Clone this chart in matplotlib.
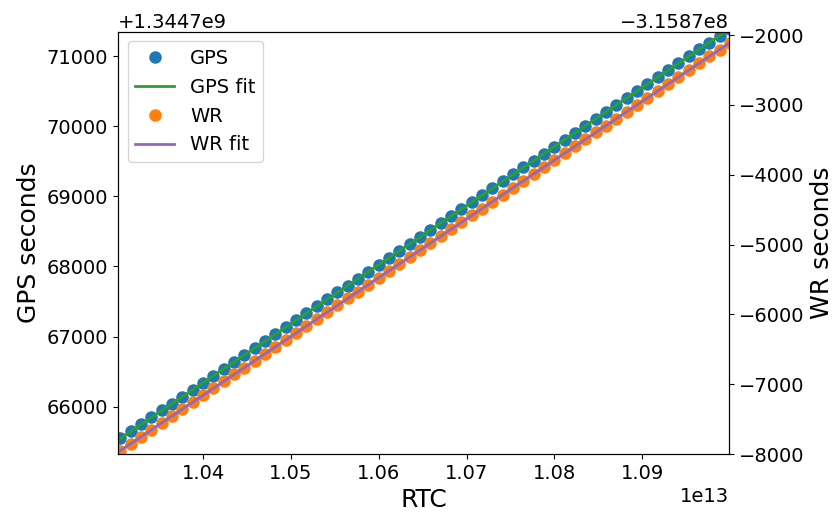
import matplotlib
matplotlib.use('Agg')
import matplotlib.pyplot as plt
import numpy as np

# RTC counter values (units of 1e13)
rtc_e13 = [
    1.0305875, 1.0317640, 1.0329405, 1.0341170, 1.0352935, 1.0364700,
    1.0376465, 1.0388230, 1.0399995, 1.0411760, 1.0423525, 1.0435290,
    1.0447055, 1.0458820, 1.0470585, 1.0482350, 1.0494115, 1.0505880,
    1.0517645, 1.0529410, 1.0541175, 1.0552940, 1.0564705, 1.0576470,
    1.0588235, 1.0600000, 1.0611765, 1.0623530, 1.0635295, 1.0647060,
    1.0658825, 1.0670590, 1.0682355, 1.0694120, 1.0705885, 1.0717650,
    1.0729415, 1.0741180, 1.0752945, 1.0764710, 1.0776475, 1.0788240,
    1.0800005, 1.0811770, 1.0823535, 1.0835300, 1.0847065, 1.0858830,
    1.0870595, 1.0882360, 1.0894125, 1.0905890, 1.0917655, 1.0929420,
    1.0941185, 1.0952950, 1.0964715, 1.0976480, 1.0988245, 1.1000010,
]

# GPS seconds, relative to 1.3447e9
GPS_BASE = 1344700000
gps_rel = [
    65550, 65649, 65748, 65847, 65946, 66045, 66144, 66243, 66342, 66441,
    66540, 66639, 66738, 66837, 66936, 67035, 67134, 67233, 67332, 67431,
    67530, 67629, 67728, 67827, 67926, 68025, 68124, 68223, 68322, 68421,
    68520, 68619, 68718, 68817, 68916, 69015, 69114, 69213, 69312, 69411,
    69510, 69609, 69708, 69807, 69906, 70005, 70104, 70203, 70302, 70401,
    70500, 70599, 70698, 70797, 70896, 70995, 71094, 71193, 71292, 71391,
]

# WR seconds, relative to -3.1587e8
WR_BASE = -315870000
wr_rel = [
    -7950, -7851, -7752, -7653, -7554, -7455, -7356, -7257, -7158, -7059,
    -6960, -6861, -6762, -6663, -6564, -6465, -6366, -6267, -6168, -6069,
    -5970, -5871, -5772, -5673, -5574, -5475, -5376, -5277, -5178, -5079,
    -4980, -4881, -4782, -4683, -4584, -4485, -4386, -4287, -4188, -4089,
    -3990, -3891, -3792, -3693, -3594, -3495, -3396, -3297, -3198, -3099,
    -3000, -2901, -2802, -2703, -2604, -2505, -2406, -2307, -2208, -2109,
]

rtc = np.array(rtc_e13) * 1e13
gps = GPS_BASE + np.array(gps_rel, dtype=float)
wr = WR_BASE + np.array(wr_rel, dtype=float)

x_lim = (1.0303e13, 1.0999e13)
gps_lim = (GPS_BASE + 65325, GPS_BASE + 71347)
wr_lim = (WR_BASE - 8000, WR_BASE - 1953)

fig = plt.figure(figsize=(8.39, 5.15), dpi=100)
ax = fig.add_axes([0.1406, 0.1184, 0.7283, 0.82])
ax2 = ax.twinx()

x_fit = np.array(x_lim)
gps_coef = np.polyfit(rtc - 1e13, gps - GPS_BASE, 1)
wr_coef = np.polyfit(rtc - 1e13, wr - WR_BASE, 1)

h1, = ax.plot(rtc, gps, 'o', color='C0', markersize=8, label='GPS')
h2, = ax.plot(x_fit, GPS_BASE + np.polyval(gps_coef, x_fit - 1e13),
              '-', color='C2', linewidth=2, label='GPS fit')
h3, = ax2.plot(rtc, wr, 'o', color='C1', markersize=8, label='WR')
h4, = ax2.plot(x_fit, WR_BASE + np.polyval(wr_coef, x_fit - 1e13),
               '-', color='C4', linewidth=2, label='WR fit')

ax.set_xlim(x_lim)
ax.set_ylim(gps_lim)
ax2.set_ylim(wr_lim)

ax.set_xlabel('RTC', fontsize=18)
ax.set_ylabel('GPS seconds', fontsize=18)
ax2.set_ylabel('WR seconds', fontsize=18)
ax.tick_params(labelsize=14)
ax2.tick_params(labelsize=14)
ax.xaxis.get_offset_text().set_fontsize(14)
ax.yaxis.get_offset_text().set_fontsize(14)
ax2.yaxis.get_offset_text().set_fontsize(14)

ax2.legend(handles=[h1, h2, h3, h4], loc='upper left', fontsize=14)

fig.savefig('out.png', dpi=100)
